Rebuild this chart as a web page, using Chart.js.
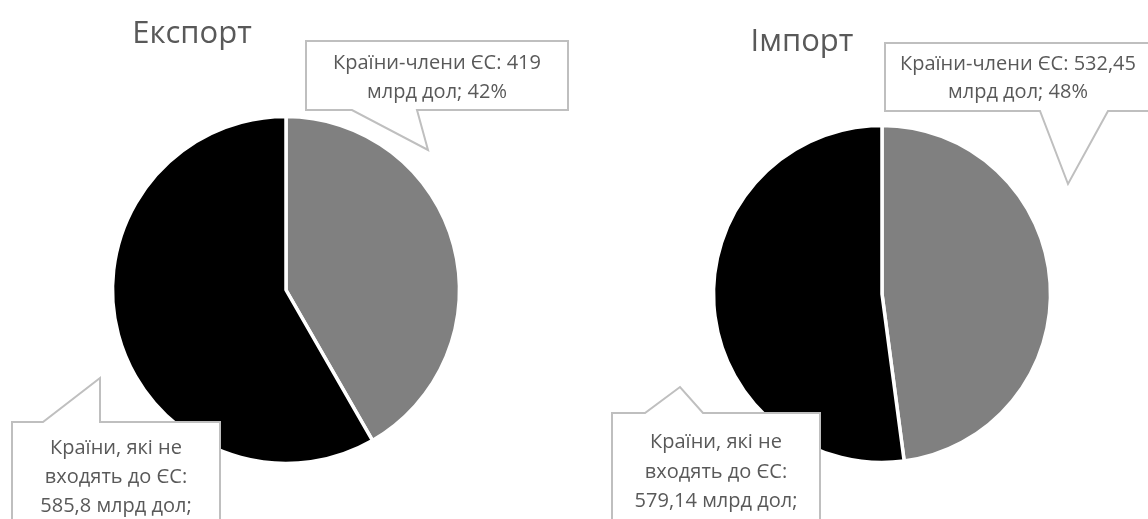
<!DOCTYPE html>
<html><head><meta charset="utf-8">
<script src="https://cdn.jsdelivr.net/npm/chart.js@4.4.1/dist/chart.umd.min.js"></script>
<style>
html,body{margin:0;padding:0;background:#fff;}
#wrap{position:relative;width:1148px;height:519px;overflow:hidden;}
canvas{position:absolute;top:0;}
#c1{left:0}#c2{left:574px}
</style></head><body>
<div id="wrap"><canvas id="c1" width="574" height="519"></canvas><canvas id="c2" width="574" height="519"></canvas></div>
<script>
// ---- data ----
const categories = ["Країни-члени ЄС", "Країни, які не входять до ЄС"];
const chartTitles = ["Експорт", "Імпорт"];
const exportValues = [419, 585.8];
const importValues = [532.45, 579.14];
const sliceColors = ["#808080", "#000000"];
const unitText = "млрд дол";

function fmt(v){ return String(v).replace('.', ','); }
function pct(values, i){ const s = values.reduce((a,b)=>a+b,0); return Math.round(values[i]/s*100); }

function labelLines(values){
  return [
    [categories[0] + ": " + fmt(values[0]), unitText + "; " + pct(values,0) + "%"],
    ["Країни, які не", "входять до ЄС:", fmt(values[1]) + " " + unitText + ";"]
  ];
}

// ---- callout / title plugin (positions relative to pie centre) ----
const calloutPlugin = {
  id: 'callouts',
  afterDraw(chart, args, opts) {
    const arc = chart.getDatasetMeta(0).data[0];
    const cx = arc.x, cy = arc.y;
    const ctx = chart.ctx;
    ctx.save();
    ctx.fillStyle = '#595959';
    ctx.font = '31px "Open Sans"';
    ctx.textAlign = 'center';
    ctx.textBaseline = 'alphabetic';
    ctx.fillText(opts.title, cx + opts.titlePos[0], cy + opts.titlePos[1]);
    opts.boxes.forEach(b => {
      const L = cx + b.box[0], T = cy + b.box[1], R = cx + b.box[2], B = cy + b.box[3];
      const p1 = cx + b.base[0], p2 = cx + b.base[1];
      const tx = cx + b.tip[0], ty = cy + b.tip[1];
      ctx.beginPath();
      if (b.side === 'bottom') {
        ctx.moveTo(L, T); ctx.lineTo(R, T); ctx.lineTo(R, B);
        ctx.lineTo(p2, B); ctx.lineTo(tx, ty); ctx.lineTo(p1, B);
        ctx.lineTo(L, B); ctx.closePath();
      } else {
        ctx.moveTo(L, T); ctx.lineTo(p1, T); ctx.lineTo(tx, ty); ctx.lineTo(p2, T);
        ctx.lineTo(R, T); ctx.lineTo(R, B); ctx.lineTo(L, B); ctx.closePath();
      }
      ctx.fillStyle = '#ffffff';
      ctx.fill();
      ctx.lineWidth = 2;
      ctx.strokeStyle = '#bfbfbf';
      ctx.lineJoin = 'miter';
      ctx.stroke();
      ctx.fillStyle = '#595959';
      ctx.font = '20px "Open Sans"';
      ctx.textAlign = 'center';
      b.lines.forEach((t, i) => {
        ctx.fillText(t, cx + b.textX, cy + b.textY + i * b.lineH);
      });
    });
    ctx.restore();
  }
};

function makePie(id, values, title, layout) {
  const lines = labelLines(values);
  return new Chart(document.getElementById(id), {
    type: 'pie',
    data: {
      labels: categories,
      datasets: [{
        data: values,
        backgroundColor: sliceColors,
        borderColor: '#ffffff',
        borderWidth: 3.5,
        radius: layout.radius
      }]
    },
    options: {
      responsive: false,
      animation: false,
      events: [],
      layout: { padding: layout.padding },
      plugins: {
        legend: { display: false },
        tooltip: { enabled: false },
        title: { display: false },
        callouts: {
          title: title,
          titlePos: layout.titlePos,
          boxes: [
            Object.assign({ lines: lines[0] }, layout.boxes[0]),
            Object.assign({ lines: lines[1] }, layout.boxes[1])
          ]
        }
      }
    },
    plugins: [calloutPlugin]
  });
}

makePie('c1', exportValues, chartTitles[0], {
  radius: 173.5,
  padding: { left: 112, right: 114, top: 118, bottom: 57 },
  titlePos: [-94, -247],
  boxes: [
    { side: 'bottom', box: [20, -249, 282, -180], base: [66, 131], tip: [142, -140], textX: 151, textY: -221, lineH: 29 },
    { side: 'top', box: [-274, 132, -66, 240], base: [-243, -186], tip: [-186, 88], textX: -170, textY: 164, lineH: 29 }
  ]
});

makePie('c2', importValues, chartTitles[1], {
  radius: 168.5,
  padding: { left: 138, right: 96, top: 127, bottom: 58 },
  titlePos: [-80, -243],
  boxes: [
    { side: 'bottom', box: [3, -251, 280, -183], base: [158, 226], tip: [186, -110], textX: 136, textY: -224, lineH: 28 },
    { side: 'top', box: [-270, 119, -62, 236], base: [-237, -179], tip: [-202, 93], textX: -166, textY: 154, lineH: 29.5 }
  ]
});
</script>
</body></html>
